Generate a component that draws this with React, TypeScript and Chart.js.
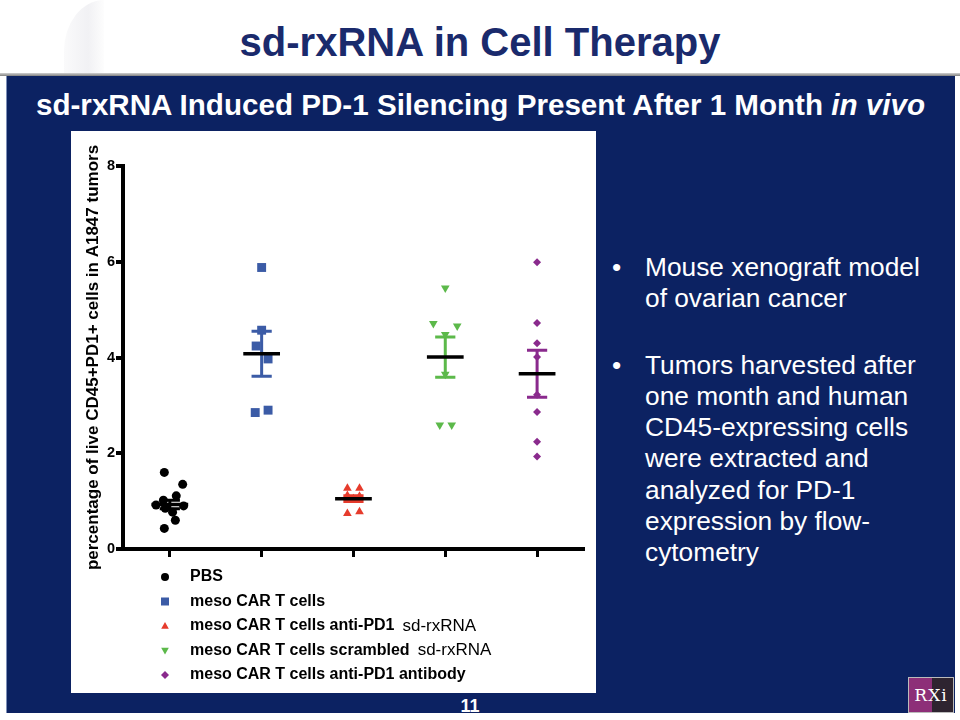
import React, { useEffect, useRef } from "react";
import { Chart, registerables } from "chart.js";

Chart.register(...registerables);

// ---------- data ----------
const categories = [
  "PBS",
  "meso CAR T cells",
  "meso CAR T cells anti-PD1",
  "meso CAR T cells scrambled",
  "meso CAR T cells anti-PD1 antibody",
];
const legendSuffix = ["", "", "sd-rxRNA", "sd-rxRNA", ""];
const groupColors = ["#000000", "#3b5ba6", "#e63b2c", "#5cb94a", "#8a2a8d"];
const groupStyles = ["circle", "rect", "triangle", "triangle", "rectRot"];
const groupRotations = [0, 0, 0, 180, 0];
const groupRadii = [4.5, 6.3, 5, 5, 4];

const pbsValues = [1.6, 1.35, 1.11, 1.02, 0.92, 0.85, 0.9, 0.6, 0.43, 0.77];
const pbsOffsets = [-0.06, 0.14, 0.07, -0.07, -0.15, -0.05, 0.15, 0.06, -0.06, 0.03];
const carValues = [5.88, 4.57, 4.24, 3.97, 2.85, 2.9];
const carOffsets = [0, 0, -0.06, 0.07, -0.07, 0.07];
const antiPd1RnaValues = [1.27, 1.27, 1.12, 1.1, 1.05, 0.74, 0.78];
const antiPd1RnaOffsets = [-0.066, 0.066, -0.066, 0.066, 0, -0.066, 0.066];
const scrambledValues = [5.45, 4.71, 4.66, 4.48, 3.65, 2.59, 2.59];
const scrambledOffsets = [0, -0.13, 0.13, 0, 0, -0.06, 0.07];
const antibodyValues = [5.99, 4.72, 4.3, 4.01, 3.22, 2.86, 2.24, 1.93];
const antibodyOffsets = [0, 0, 0, 0, 0, 0, 0, 0];

const groupMeans = [0.93, 4.08, 1.05, 4.01, 3.66];
const groupSems = [0.09, 0.47, 0.06, 0.42, 0.49];

const yTicks = [0, 2, 4, 6, 8];
const yTitle = "percentage of live CD45+PD1+ cells in A1847 tumors";

const groupValues = [pbsValues, carValues, antiPd1RnaValues, scrambledValues, antibodyValues];
const groupOffsets = [pbsOffsets, carOffsets, antiPd1RnaOffsets, scrambledOffsets, antibodyOffsets];

const FONT = '"Liberation Sans", Arial, Helvetica, sans-serif';

function drawSymbol(ctx: CanvasRenderingContext2D, style: string, rot: number, x: number, y: number, r: number) {
  ctx.beginPath();
  if (style === "circle") {
    ctx.arc(x, y, r, 0, Math.PI * 2);
  } else if (style === "rect") {
    ctx.rect(x - r, y - r, 2 * r, 2 * r);
  } else if (style === "triangle") {
    const s = rot === 180 ? -1 : 1;
    ctx.moveTo(x, y - s * r);
    ctx.lineTo(x + r * 0.95, y + s * r * 0.7);
    ctx.lineTo(x - r * 0.95, y + s * r * 0.7);
    ctx.closePath();
  } else {
    ctx.moveTo(x, y - r);
    ctx.lineTo(x + r, y);
    ctx.lineTo(x, y + r);
    ctx.lineTo(x - r, y);
    ctx.closePath();
  }
  ctx.fill();
}

const legendPlugin = {
  id: "groupLegend",
  afterDraw(chart: any) {
    const ctx: CanvasRenderingContext2D = chart.ctx;
    const a = chart.chartArea;
    categories.forEach((name, i) => {
      const y = a.bottom + 28 + i * 24.5;
      const sx = a.left + 42;
      ctx.save();
      ctx.fillStyle = groupColors[i];
      drawSymbol(ctx, groupStyles[i], groupRotations[i], sx, y, 4);
      ctx.fillStyle = "#000";
      ctx.textBaseline = "middle";
      ctx.textAlign = "left";
      ctx.font = `bold 16px ${FONT}`;
      const tx = a.left + 67;
      ctx.fillText(name, tx, y);
      if (legendSuffix[i]) {
        const w = ctx.measureText(name).width;
        ctx.font = `17px ${FONT}`;
        ctx.fillText(legendSuffix[i], tx + w + 8, y);
      }
      ctx.restore();
    });
  },
};

function ScatterChart() {
  const ref = useRef<HTMLCanvasElement | null>(null);
  useEffect(() => {
    if (!ref.current) return;
    const datasets: any[] = [];
    // means (top-most)
    groupMeans.forEach((m, i) => {
      const c = i + 1;
      datasets.push({
        type: "scatter",
        showLine: true,
        data: [
          { x: c - 0.2, y: m },
          { x: c + 0.2, y: m },
        ],
        borderColor: "#000",
        borderWidth: 3.5,
        pointRadius: 0,
        order: 0,
      });
    });
    // SEM bars
    groupMeans.forEach((m, i) => {
      const c = i + 1;
      const s = groupSems[i];
      datasets.push({
        type: "scatter",
        showLine: true,
        spanGaps: false,
        data: [
          { x: c, y: m + s },
          { x: c, y: m - s },
          { x: c, y: null },
          { x: c - 0.11, y: m + s },
          { x: c + 0.11, y: m + s },
          { x: c, y: null },
          { x: c - 0.11, y: m - s },
          { x: c + 0.11, y: m - s },
        ],
        borderColor: groupColors[i],
        borderWidth: 3,
        pointRadius: 0,
        order: 1,
      });
    });
    // points
    groupValues.forEach((vals, i) => {
      datasets.push({
        type: "scatter",
        label: categories[i],
        data: vals.map((v, j) => ({ x: i + 1 + groupOffsets[i][j], y: v })),
        pointStyle: groupStyles[i],
        pointRotation: groupRotations[i],
        pointRadius: groupRadii[i],
        backgroundColor: groupColors[i],
        borderColor: groupColors[i],
        pointBorderWidth: 0,
        order: 2,
      });
    });

    const chart = new Chart(ref.current, {
      type: "scatter",
      data: { datasets },
      plugins: [legendPlugin],
      options: {
        animation: false,
        responsive: false,
        maintainAspectRatio: false,
        layout: { padding: { top: 35, right: 13, left: 0, bottom: 0 } },
        plugins: { legend: { display: false }, tooltip: { enabled: false } },
        scales: {
          x: {
            type: "linear",
            min: 0.49,
            max: 5.5,
            afterBuildTicks: (s: any) => {
              s.ticks = categories.map((_, i) => ({ value: i + 1 }));
            },
            afterFit: (s: any) => {
              s.height = 144;
            },
            ticks: { display: false },
            grid: { drawOnChartArea: false, drawTicks: true, tickLength: 8, lineWidth: 3, color: "#000" },
            border: { display: true, color: "#000", width: 4 },
          },
          y: {
            type: "linear",
            min: 0,
            max: 8,
            afterBuildTicks: (s: any) => {
              s.ticks = yTicks.map((v) => ({ value: v }));
            },
            afterFit: (s: any) => {
              s.width = 52;
            },
            ticks: { color: "#000", padding: 1, font: { family: FONT, size: 14.5, weight: "bold" } },
            grid: { drawOnChartArea: false, drawTicks: true, tickLength: 7, lineWidth: 4, color: "#000" },
            border: { display: true, color: "#000", width: 4 },
            title: {
              display: true,
              text: yTitle,
              color: "#000",
              font: { family: FONT, size: 17, weight: "bold" },
              padding: { top: 12, bottom: 0 },
            },
          },
        },
      } as any,
    });
    return () => chart.destroy();
  }, []);
  return <canvas ref={ref} width={525} height={562} style={{ width: 525, height: 562, display: "block" }} />;
}

const bullet1 = ["Mouse xenograft model", "of ovarian cancer"];
const bullet2 = [
  "Tumors harvested after",
  "one month and human",
  "CD45-expressing cells",
  "were extracted and",
  "analyzed for PD-1",
  "expression by flow-",
  "cytometry",
];

function Bullet({ lines, top }: { lines: string[]; top: number }) {
  return (
    <div style={{ position: "absolute", left: 612, top, color: "#fff", fontFamily: FONT, fontSize: 26.3, lineHeight: "31.3px" }}>
      <div style={{ position: "absolute", left: 0, top: 0, width: 20 }}>•</div>
      <div style={{ position: "absolute", left: 33, top: 0, whiteSpace: "nowrap" }}>
        {lines.map((l, i) => (
          <div key={i}>{l}</div>
        ))}
      </div>
    </div>
  );
}

export default function App() {
  return (
    <div style={{ position: "fixed", left: 0, top: 0, width: 960, height: 720, background: "#fff", overflow: "hidden", fontFamily: FONT }}>
      <div style={{ position: "absolute", left: 64, top: 0, width: 40, height: 73, background: "linear-gradient(to right, #fafafb, #f1f1f4 60%, #fdfdfd)", borderTopLeftRadius: "100% 70%" }} />
      <div style={{ position: "absolute", left: 0, top: 18, width: 960, textAlign: "center", fontSize: 40, lineHeight: "48px", fontWeight: "bold", color: "#1a2a6c" }}>
        sd-rxRNA in Cell Therapy
      </div>
      <div style={{ position: "absolute", left: 0, top: 73, width: 960, height: 3, background: "linear-gradient(#d0d0d0, #808080)" }} />
      <div style={{ position: "absolute", left: 6, top: 76, width: 949, height: 637, background: "#0c2262", borderLeft: "1px solid #7d8fb8", boxSizing: "border-box" }} />
      <div style={{ position: "absolute", left: 6, top: 88, width: 949, textAlign: "center", fontSize: 29.6, lineHeight: "34px", fontWeight: "bold", color: "#fff", whiteSpace: "nowrap" }}>
        sd-rxRNA Induced PD-1 Silencing Present After 1 Month <i>in vivo</i>
      </div>
      <div style={{ position: "absolute", left: 71, top: 131, width: 525, height: 562, background: "#fff" }}>
        <ScatterChart />
      </div>
      <Bullet lines={bullet1} top={252} />
      <Bullet lines={bullet2} top={349.5} />
      <div style={{ position: "absolute", left: 420, top: 695, width: 100, textAlign: "center", color: "#fff", fontWeight: "bold", fontSize: 18, lineHeight: "22px" }}>
        11
      </div>
      <div style={{ position: "absolute", left: 908, top: 677, width: 46, height: 36, border: "1px solid #bbb", boxSizing: "border-box", background: "linear-gradient(90deg, #8d2f78 0 52%, #2e2430 52%)", color: "#fff", fontFamily: '"DejaVu Serif", serif', fontSize: 17, lineHeight: "34px", textAlign: "center", letterSpacing: 1 }}>
        RXi
      </div>
    </div>
  );
}
